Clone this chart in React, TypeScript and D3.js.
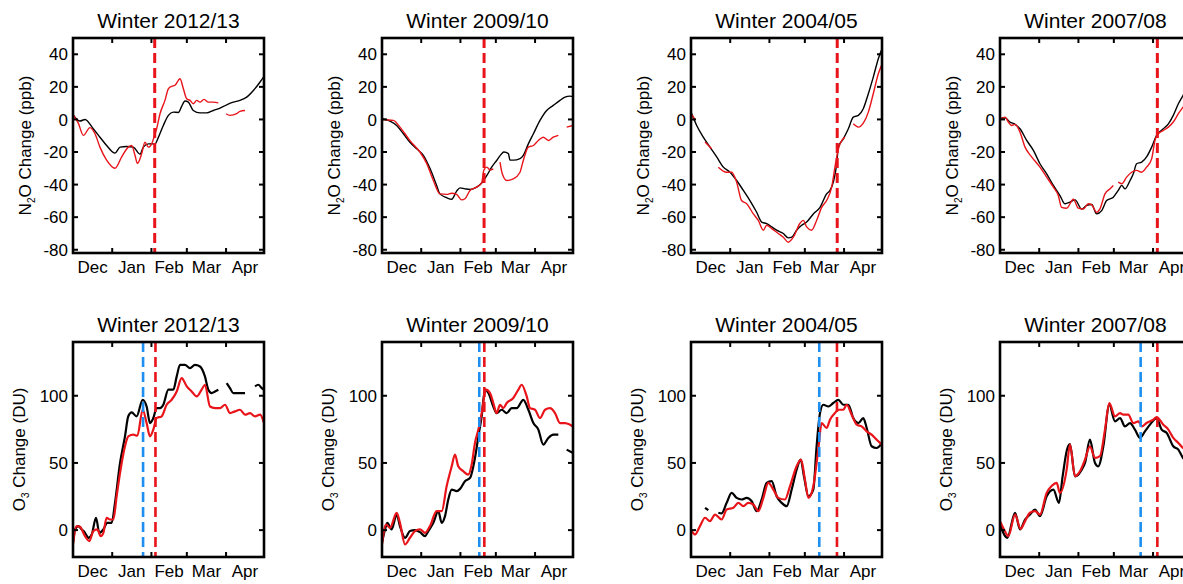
import React from "react";
import * as d3 from "d3";

type Pt = [number, number | null];

// season days counted from 1 Dec
const monthNames = ["Dec", "Jan", "Feb", "Mar", "Apr"];
const monthStarts = [0, 31, 62, 90, 121, 151];
const winters = ["Winter 2012/13", "Winter 2009/10", "Winter 2004/05", "Winter 2007/08"];

const n2oTicks = [40, 20, 0, -20, -40, -60, -80];
const o3Ticks = [0, 50, 100];

// vortex dates (day of season)
const n2oRedDay = [64.6, 80.7, 115.6, 124.4];
const o3BlueDay = [55.4, 76.9, 101.4, 111.2];
const o3RedDay = [65.2, 80.9, 115.4, 124.4];

// N2O change, black = observed, red = model
const n2oBlack1213: Pt[] = [[0,2.9],[5.5,-1],[9.5,0],[16,-5.7],[21.3,-10.9],[26.6,-16],[33.2,-20.7],[37.2,-17],[42.4,-16.6],[47.7,-17],[53,-21.3],[55.6,-17],[59.6,-15],[64.8,-15],[67.5,-11],[71.4,-3.7],[75.4,2.5],[79.3,4.5],[83.3,4.3],[85.9,8],[88.5,11.3],[91.2,10.6],[95.1,5.5],[100.4,4],[105.7,4],[110.9,5.5],[116.2,7],[121.5,9],[126.7,10.6],[132,11.7],[137.3,13.7],[142.6,17.8],[147.9,23],[151,26.5]];
const n2oRed1213: Pt[] = [[0,2.9],[4.2,-2.3],[8.2,-9.8],[13.4,-5],[17.4,-8.8],[21.3,-17],[26.6,-25],[33.2,-30],[38.5,-23],[43.7,-17],[46.4,-16],[49,-22],[50.9,-27],[54.3,-21],[56.9,-14],[59.6,-17],[62.2,-15],[64,-11],[66.1,-5.7],[68.8,3.5],[72.7,11.7],[75.4,18.8],[78,20.3],[80.6,21],[83.3,24],[84.6,25],[87.2,19],[89.9,12.7],[92.5,11.7],[95.1,9.6],[97.8,11.7],[100.4,10.6],[103.6,12.3],[107,10.6],[110.9,10.6],[114.9,10.2],[118,null],[121,3.5],[124.1,2.5],[129.4,3.5],[132,5],[136,5.5]];

const n2oBlack0910: Pt[] = [[0,0.4],[6.3,-1],[11.6,-3.7],[16.9,-8.8],[22.1,-14],[27.4,-18],[32.7,-22],[37.9,-30],[43.2,-40.5],[45.8,-45.7],[51.1,-48],[55.1,-49],[59,-44],[61.7,-42],[65.6,-42.6],[69.6,-43],[74.8,-41.6],[78.8,-39],[82.9,-34.4],[86.7,-29.3],[90.6,-25.2],[94.6,-21],[96.4,-20],[99.9,-21],[101.2,-25],[103.8,-25],[109.1,-24],[111.7,-22],[115.7,-15],[119.7,-8.8],[124.9,-0.6],[130.2,5.5],[135.4,8.6],[140.7,11.7],[144.7,13.7],[148.6,14.3],[151,14]];
const n2oRed0910: Pt[] = [[0,0],[9,-0.6],[14.2,-4.7],[22.1,-13],[30,-20],[35.3,-27],[40.6,-37.5],[45.8,-45.7],[51.1,-46],[55.1,-45.3],[59,-46],[63,-49.4],[65.6,-48.7],[69.6,-43.6],[74.8,-41.6],[78.8,-39],[80.6,-31],[82.9,-29.3],[85.4,-31],[88,-30.3],[91,null],[93.3,-26.2],[95.1,-33.4],[98.6,-37.5],[103.8,-36.5],[109.1,-32.4],[111.7,-25.2],[115.7,-17],[119.7,-16],[123.6,-12.9],[127.5,-10.9],[131.5,-12.9],[135.4,-10.9],[139.4,-9.8],[143,null],[146,-4.7],[151,-3.7]];

const n2oBlack0405: Pt[] = [[0,4.5],[4.5,-3.7],[9.7,-10.9],[15,-17],[20.3,-23],[25.6,-29.3],[30.8,-32.4],[36.1,-37.5],[41.4,-43.6],[46.6,-49.8],[51.9,-57],[55.9,-63],[59.8,-64],[63.8,-66],[67.7,-68],[73,-70],[76.9,-72.7],[79.6,-72.3],[83.5,-68],[87.5,-65],[91.4,-63],[96.7,-58],[102,-54],[107.2,-45.7],[109.9,-43.6],[112.5,-38.5],[115.2,-27.2],[116.5,-17],[120.4,-11.9],[124.4,-5.7],[128.3,1.4],[132.3,2.5],[136.2,6.6],[140.2,15.8],[144.1,26],[148.1,37.3],[151,43.4]];
const n2oRed0405: Pt[] = [[0,3.5],[3.2,0],[5,null],[11.1,-13.9],[16.3,-18],[18,null],[21.6,-29.3],[28.2,-32.4],[32.1,-32.4],[36.1,-38.5],[40,-49.8],[44,-51.8],[49.3,-58],[53.2,-62],[57.2,-68],[59.8,-65],[63.8,-67],[69,-70],[73,-72.3],[76.9,-75.4],[80.9,-72.3],[86.2,-63.7],[88.8,-62],[91.4,-66],[95.4,-68],[99.3,-62],[103.3,-54],[107.2,-49.8],[111.2,-41.6],[113.8,-29.3],[115.7,-21],[117.8,-15],[121.7,-10.9],[125,null],[128.3,-2.7],[132.3,-4.7],[136.2,-2.3],[140.2,4.5],[144.1,15.8],[148.1,28],[151,34]];

const n2oBlack0708: Pt[] = [[0,0.4],[4,1],[7.9,-1.6],[11.9,-3],[15.8,-5.7],[21.1,-12.9],[26.4,-19],[31.6,-27.2],[36.9,-33.4],[42.2,-40.5],[47.4,-46.7],[51.4,-51.8],[55.3,-50.8],[59.3,-49.4],[64.6,-55],[68.5,-52.8],[72.5,-52.2],[76.4,-58],[80.4,-56],[84.3,-49.8],[89.6,-47.7],[93.5,-43.6],[96.2,-40.5],[98.8,-42.6],[102.8,-37.5],[105.4,-33.4],[108,-27.2],[112,-26.2],[115.9,-23],[119.9,-17],[123.8,-9.8],[129.1,-5.7],[133.1,-2.7],[137,2.5],[141,9.6],[144.7,14.7],[151,24]];
const n2oRed0708: Pt[] = [[0,0.4],[4,1.4],[6.6,-1.6],[9.2,-3.7],[11.9,-3],[15.8,-7.8],[19.8,-17],[25,-23],[31.6,-29.3],[36.9,-35.4],[42.2,-41.6],[46.1,-46.7],[48.7,-54],[52.7,-54.5],[58,-49],[61.9,-54.5],[65.9,-55],[69.8,-51.8],[72.5,-52.5],[76.4,-57],[79,-54.9],[83,-45.7],[87,-42.6],[89.6,-40.6],[91.5,null],[93.5,-38.5],[96.2,-39.5],[100.1,-35.4],[104.1,-32.4],[108,-31.3],[112,-32.4],[115.9,-29.3],[119.9,-24.2],[122.5,-12.9],[125.2,-8.8],[129.1,-6.8],[133.1,-4.7],[137,-1.6],[141,3.5],[144.7,7.6],[151,14]];

// O3 change, black = observed, red = model
const o3Black1213: Pt[] = [[0,-9.4],[1.6,0.5],[4.2,3],[6.9,0.5],[9.5,-2],[12.1,-5.7],[14.8,-3.2],[18.2,9.2],[20.8,-2],[24,0.5],[27.1,5.4],[30.6,5.4],[33.2,20.3],[37.2,50],[41.1,69.8],[43.7,84.7],[46.4,87.6],[50.3,84.7],[55.1,97],[58.2,92],[60.9,79.7],[63.5,83.4],[66.1,90.8],[68.8,90.8],[71.4,93.3],[75.4,104.5],[79.3,104.5],[82,114.4],[84.6,123],[88.5,123],[92.5,120.5],[96.4,123],[100.4,121.8],[104.3,114.4],[107,104.5],[109.6,102],[112.3,103.2],[114.9,104.5],[118,null],[121.5,109.4],[124.1,105.7],[126.7,102],[132,102],[136,102],[140,null],[143.9,107],[146.5,108.2],[149.2,105.7],[151,104.5]];
const o3Red1213: Pt[] = [[0,-10.6],[2.9,3],[5.5,2.5],[9.5,-4.5],[12.9,-8.2],[16.1,-0.7],[19.2,0.5],[21.9,-4.5],[24,-2],[26.6,9.2],[29.2,7.9],[31.9,7.9],[34.5,25.2],[37.2,42.6],[41.1,62.4],[43.7,69.8],[47.7,71],[50.9,70.3],[55.1,89.6],[58.2,79.7],[60.9,69.8],[63.5,74.8],[66.1,83.4],[70.1,84.7],[74,93.3],[78,97],[82,103.2],[85.9,113.1],[89.9,107],[93.8,103.2],[97.8,99.5],[101.7,104.5],[104.3,108.2],[108.3,92],[112.3,90.8],[116.2,90.8],[120.2,93.3],[124.1,87.1],[128.1,88.4],[132,89.6],[136,85.9],[139.9,87.1],[143.9,84.7],[147.9,85.9],[151,79.7]];

const o3Black0910: Pt[] = [[0,-9.4],[2.4,0.5],[4.2,5.4],[7.6,0.5],[11.6,11.6],[14.2,3],[18.2,-5.7],[22.1,-0.7],[26.1,0],[30,-1.5],[34,-4.5],[36.6,-0.7],[40.6,5.4],[44.5,14.1],[47.2,5.4],[49.8,10.4],[52.4,22.8],[55.1,30.2],[59,29],[61.7,30.7],[65.6,36.4],[69.6,38.9],[73.5,53.7],[76.2,69.8],[78.8,84.7],[81.4,104.5],[84.1,102],[88,92],[90.6,87.1],[94.6,89.6],[98.6,87.1],[102.5,90.8],[106.5,90.8],[111.7,97],[115.7,89.6],[119.7,79.7],[123.6,74.8],[127.5,63.6],[131.5,68.6],[135.4,71],[139.4,71],[142,null],[146,59.9],[151,57.4]];
const o3Red0910: Pt[] = [[0,-10.6],[3.2,4.2],[6.3,1.7],[11.6,12.9],[14.2,5.4],[18.2,-10.6],[22.1,-5.7],[26.1,-0.7],[30,0.5],[34,-2],[37.9,3],[43.2,14.1],[47.2,14.1],[51.1,32.7],[55.1,47.5],[57.7,56.2],[60.3,47.5],[64.3,43.8],[68.2,41.3],[70.9,48.8],[73.5,64.9],[76.2,74.8],[78.8,87.1],[82.2,104.5],[85.4,102],[88,94.6],[90.6,87.1],[93.3,93.3],[95.9,90.8],[98.6,94.6],[103.8,98.3],[107.8,104.5],[110.4,108.2],[114.4,99.5],[117,90.8],[121,89.6],[124.9,83.4],[128.9,89.6],[132.8,90.8],[136.8,87.1],[140.7,79.7],[144.7,79.7],[148.6,78.5],[151,77.2]];

const o3Black0405: Pt[] = [[11.1,16.6],[13.7,14.9],[16,null],[21.6,12.9],[24.2,12.5],[28.2,20.3],[32.1,27.7],[36.1,24],[40,22.8],[44,24],[48,21.5],[51.9,14.1],[55.9,22.8],[59.8,35.1],[63.8,36.4],[67.7,25.2],[71.7,20.3],[75.6,17.8],[79.6,30.2],[83.5,45],[86.7,52.5],[89.3,40.1],[92.8,25.2],[96.7,30.2],[99.3,62.4],[102,87.1],[104.6,93.3],[108.6,92],[112.5,94.6],[116.5,97],[120.4,93.3],[124.4,93.3],[128.3,83.4],[132.3,79.7],[136.2,83.4],[138.9,76],[142.8,62.4],[146.8,61.1],[151,64.9]];
const o3Red0405: Pt[] = [[0,0.5],[3.2,-3.2],[7.1,3],[11.1,9.2],[15,6.7],[19,11.6],[24.2,7.9],[28.2,15.3],[33.5,16.6],[37.4,20.3],[41.4,17.8],[45.3,20.3],[49.3,19.1],[53.2,14.1],[57.2,24],[61.1,35.1],[65.1,30.2],[69,24],[74.3,22.8],[78.3,32.7],[83.5,47.5],[87,52.5],[90.1,37.6],[92.8,24],[96.7,32.7],[100.6,59.9],[103.3,79.7],[107.2,76],[109.9,82.2],[113.8,87.1],[116.5,89.6],[120.4,89.6],[123.1,93.3],[127,85.9],[131,78.5],[134.9,77.2],[138.9,73.5],[142.8,71],[146.8,67.3],[151,63.6]];

const o3Black0708: Pt[] = [[0,5.4],[2.6,-2],[5.8,-5.7],[11.9,12.9],[15.8,0.5],[19.8,7.9],[23.7,11.6],[27.7,15.3],[31.6,10.4],[36.9,25.2],[42.2,30.2],[46.6,20.3],[49.5,40],[53,60],[55.3,64],[59.3,40],[61.9,41.3],[64.6,45],[67.2,50],[71.1,67.3],[75.1,50],[77.7,47.5],[81.7,62.4],[86.4,93.3],[90.9,80.9],[94.9,83.4],[98.8,77.2],[102.8,79.7],[106.7,74.8],[110.7,68.6],[114.6,73.5],[118.6,78.5],[123.8,83.4],[127.8,74.8],[131.8,72.3],[137,62.4],[141,59.9],[144.7,53.7],[151,50]];
const o3Red0708: Pt[] = [[0,6.7],[3.2,0.5],[6.6,-4.5],[11.9,11.6],[16.3,1],[19.8,6.7],[23.7,12.9],[27.7,14.1],[31.6,11.6],[36.9,27.7],[41,33],[44.8,35.1],[47.4,27.7],[52.7,45],[55.3,63.6],[59.3,40.1],[63.2,43.8],[67.2,52.5],[71.1,62.4],[75.1,53.7],[79,55],[83,74.8],[86.4,94.6],[90.9,84.7],[94.9,87.1],[97.5,85.9],[101.4,85.9],[105.4,79.7],[109.4,80.9],[112,77.2],[115.9,79.7],[121.2,82.2],[123.8,84.2],[129.1,78.5],[133.1,74.8],[137,68.6],[141,64.9],[144.7,61.1],[151,58]];

const n2oBlack = [n2oBlack1213, n2oBlack0910, n2oBlack0405, n2oBlack0708];
const n2oRed = [n2oRed1213, n2oRed0910, n2oRed0405, n2oRed0708];
const o3Black = [o3Black1213, o3Black0910, o3Black0405, o3Black0708];
const o3Red = [o3Red1213, o3Red0910, o3Red0405, o3Red0708];

const FONT = "'Liberation Sans', Arial, Helvetica, sans-serif";
const RED = "#e8141a";
const BLUE = "#1e8ff0";
const COL_X = [73, 382, 691, 1000];
const ROW_Y = [38, 342];
const PW = 191;
const PH = 215;

type PanelProps = {
  x0: number;
  y0: number;
  title: string;
  yDomain: [number, number];
  yTicks: number[];
  label: "n2o" | "o3";
  black: Pt[];
  red: Pt[];
  vlines: { day: number; color: string }[];
  lineWidth: number;
  dashWidth: number;
  id: string;
};

const Panel = (p: PanelProps) => {
  const x = d3.scaleLinear().domain([0, 151]).range([p.x0, p.x0 + PW]);
  const y = d3.scaleLinear().domain(p.yDomain).range([p.y0 + PH, p.y0]);
  const line = d3
    .line<Pt>()
    .defined((d) => d[1] !== null)
    .x((d) => x(d[0]))
    .y((d) => y(d[1] as number))
    .curve(d3.curveMonotoneX);
  const tickLen = 5;
  const labelX = p.x0 - (p.label === "n2o" ? 48 : 54);
  const labelY = p.y0 + PH / 2;

  return (
    <g>
      <defs>
        <clipPath id={p.id}>
          <rect x={p.x0} y={p.y0} width={PW} height={PH} />
        </clipPath>
      </defs>
      <text x={p.x0 + PW / 2} y={p.y0 - 10} textAnchor="middle" fontSize={21} fontFamily={FONT}>
        {p.title}
      </text>
      <g clipPath={`url(#${p.id})`}>
        <path d={line(p.black) || ""} fill="none" stroke="#000" strokeWidth={p.lineWidth} />
        <path d={line(p.red) || ""} fill="none" stroke={RED} strokeWidth={p.lineWidth} />
        {p.vlines.map((v, i) => (
          <line
            key={i}
            x1={x(v.day)}
            x2={x(v.day)}
            y1={p.y0}
            y2={p.y0 + PH}
            stroke={v.color}
            strokeWidth={p.dashWidth}
            strokeDasharray="10 5"
          />
        ))}
      </g>
      {/* inward ticks */}
      {monthStarts.slice(1, -1).map((d) => (
        <g key={d}>
          <line x1={x(d)} x2={x(d)} y1={p.y0 + PH} y2={p.y0 + PH - tickLen} stroke="#000" strokeWidth={2} />
          <line x1={x(d)} x2={x(d)} y1={p.y0} y2={p.y0 + tickLen} stroke="#000" strokeWidth={2} />
        </g>
      ))}
      {p.yTicks.map((t) => (
        <g key={t}>
          <line x1={p.x0} x2={p.x0 + tickLen} y1={y(t)} y2={y(t)} stroke="#000" strokeWidth={2} />
          <line x1={p.x0 + PW} x2={p.x0 + PW - tickLen} y1={y(t)} y2={y(t)} stroke="#000" strokeWidth={2} />
          <text x={p.x0 - 5} y={y(t)} dy="0.36em" textAnchor="end" fontSize={17} fontFamily={FONT}>
            {t}
          </text>
        </g>
      ))}
      <rect x={p.x0} y={p.y0} width={PW} height={PH} fill="none" stroke="#000" strokeWidth={2.6} />
      {monthNames.map((m, i) => (
        <text
          key={m}
          x={x((monthStarts[i] + monthStarts[i + 1]) / 2)}
          y={p.y0 + PH + 20}
          textAnchor="middle"
          fontSize={17}
          fontFamily={FONT}
        >
          {m}
        </text>
      ))}
      <text
        transform={`translate(${labelX},${labelY}) rotate(-90)`}
        dy="0.35em"
        textAnchor="middle"
        fontSize={17}
        fontFamily={FONT}
      >
        {p.label === "n2o" ? "N" : "O"}
        <tspan dy={4} fontSize={10}>{p.label === "n2o" ? "2" : "3"}</tspan>
        <tspan dy={-4}>{p.label === "n2o" ? "O Change (ppb)" : " Change (DU)"}</tspan>
      </text>
    </g>
  );
};

export default function App() {
  return (
    <div style={{ position: "fixed", left: 0, top: 0, width: 1183, height: 584, overflow: "hidden", background: "#fff" }}>
      <svg width={1183} height={584}>
        <rect width={1183} height={584} fill="#fff" />
        {winters.map((w, i) => (
          <Panel
            key={"n" + i}
            id={"cn" + i}
            x0={COL_X[i]}
            y0={ROW_Y[0]}
            title={w}
            yDomain={[-82, 50]}
            yTicks={n2oTicks}
            label="n2o"
            black={n2oBlack[i]}
            red={n2oRed[i]}
            vlines={[{ day: n2oRedDay[i], color: RED }]}
            lineWidth={1.4}
            dashWidth={3}
          />
        ))}
        {winters.map((w, i) => (
          <Panel
            key={"o" + i}
            id={"co" + i}
            x0={COL_X[i]}
            y0={ROW_Y[1]}
            title={w}
            yDomain={[-20, 140]}
            yTicks={o3Ticks}
            label="o3"
            black={o3Black[i]}
            red={o3Red[i]}
            vlines={[
              { day: o3BlueDay[i], color: BLUE },
              { day: o3RedDay[i], color: RED },
            ]}
            lineWidth={2.2}
            dashWidth={2.6}
          />
        ))}
      </svg>
    </div>
  );
}
